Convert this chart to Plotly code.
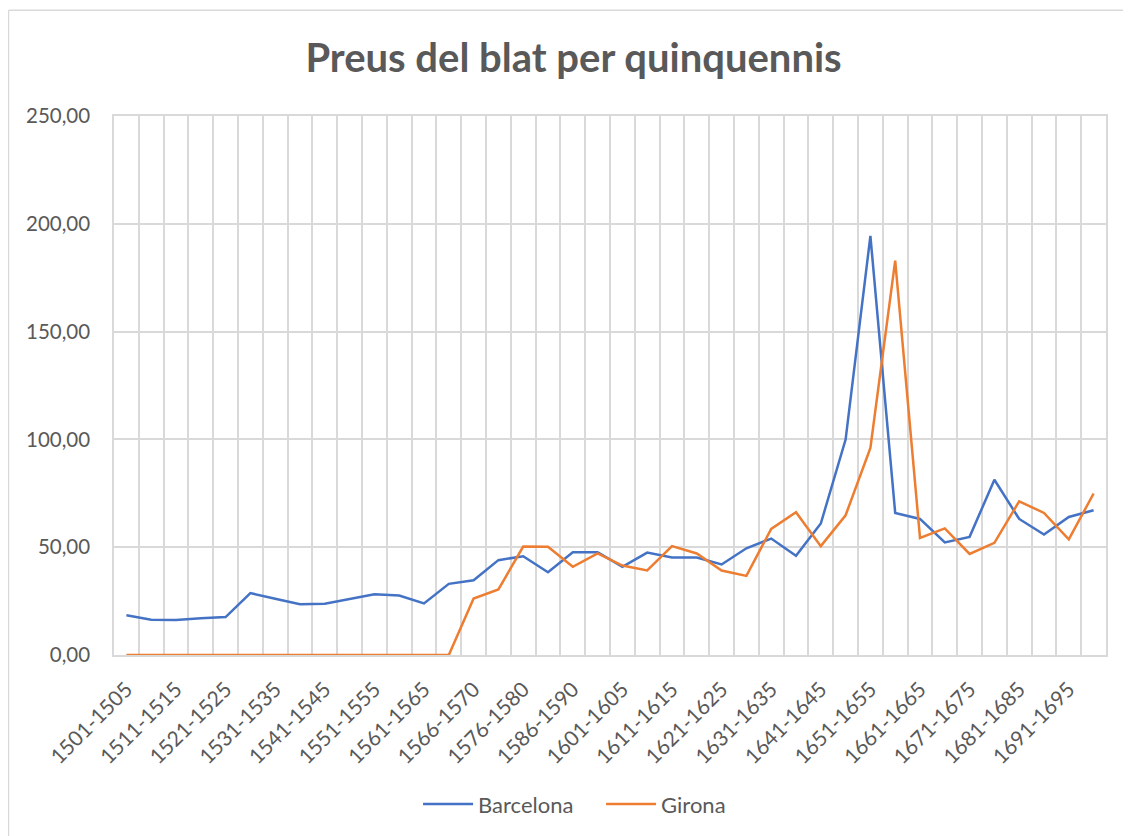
import plotly.graph_objects as go

periods = ["1501-1505", "1506-1510", "1511-1515", "1516-1520", "1521-1525", "1526-1530",
           "1531-1535", "1536-1540", "1541-1545", "1546-1550", "1551-1555", "1556-1560",
           "1561-1565", "1564-1565", "1566-1570", "1571-1575", "1576-1580", "1581-1585",
           "1586-1590", "1591-1595", "1601-1605", "1606-1610", "1611-1615", "1616-1620",
           "1621-1625", "1626-1630", "1631-1635", "1636-1640", "1641-1645", "1646-1650",
           "1651-1655", "1656-1660", "1661-1665", "1666-1670", "1671-1675", "1676-1680",
           "1681-1685", "1686-1690", "1691-1695", "1696-1700"]

barcelona = [18.4, 16.4, 16.2, 17.1, 17.6, 28.7, 26.1, 23.5, 23.8, 26.1, 28.2, 27.6, 23.9, 33.0,
             34.7, 44.0, 45.8, 38.4, 47.7, 47.7, 40.9, 47.5, 45.2, 45.2, 42.0, 49.5, 54.0, 46.0,
             61.0, 99.9, 194.4, 65.9, 63.1, 52.2, 54.8, 81.3, 63.1, 55.9, 64.0, 67.1]

girona = [0, 0, 0, 0, 0, 0, 0, 0, 0, 0, 0, 0, 0, 0,
          26.2, 30.4, 50.3, 50.2, 40.9, 47.1, 41.5, 39.2, 50.5, 47.1, 39.2, 36.7, 58.5, 66.2,
          50.5, 64.8, 96.0, 182.9, 54.3, 58.7, 46.9, 52.0, 71.3, 65.9, 53.6, 74.9]

x = list(range(len(periods)))
text_col = "#595959"
grid_col = "#D9D9D9"
font = "Lato"

fig = go.Figure()
fig.add_trace(go.Scatter(x=x, y=barcelona, mode="lines", name="Barcelona",
                         line=dict(color="#4472C4", width=2.5)))
fig.add_trace(go.Scatter(x=x, y=girona, mode="lines", name="Girona",
                         line=dict(color="#ED7D31", width=2.5)))

# page body has an 8px margin, so the figure is sized to fit inside the window
fig.update_layout(
    width=1123, height=828,
    margin=dict(l=106, r=25, t=108, b=180),
    paper_bgcolor="white", plot_bgcolor="white",
    separators=",.",
    font=dict(family=font, color=text_col, size=20),
    title=dict(text="<b>Preus del blat per quinquennis</b>", x=0.5036, xanchor="center",
               y=0.9396, yanchor="middle", font=dict(size=40, color=text_col, family=font)),
    legend=dict(orientation="h", x=0.491, xanchor="center", y=-0.2746, yanchor="middle",
                font=dict(size=22, color=text_col), itemwidth=50,
                entrywidth=118, entrywidthmode="pixels"),
    showlegend=True,
)

fig.update_xaxes(
    range=[-0.5, len(periods) - 0.5], automargin=False,
    tickmode="array", tickvals=x[::2], ticktext=periods[::2],
    tickangle=-45, showgrid=False, zeroline=False,
    ticks="", ticklabelstandoff=12,
    tickfont=dict(size=21, color=text_col),
    minor=dict(tickmode="array", tickvals=[i - 0.5 for i in x] + [len(x) - 0.5],
               showgrid=True, gridcolor=grid_col, gridwidth=1.5, ticks=""),
    showline=True, linecolor=grid_col, linewidth=1.5, mirror=True,
)
fig.update_yaxes(
    range=[0, 250], dtick=50, tickformat=".2f", automargin=False,
    showgrid=True, gridcolor=grid_col, gridwidth=1.5, zeroline=False,
    ticks="", ticklabelstandoff=18,
    tickfont=dict(size=20.5, color=text_col),
    showline=True, linecolor=grid_col, linewidth=1.5, mirror=True,
)

# chart frame (left and top edges visible in the original)
fx = (8.5 - 114) / 992
fy = (656 - 10) / 540
fig.add_shape(type="line", xref="paper", yref="paper",
              x0=fx, x1=fx, y0=fy, y1=-0.4,
              line=dict(color=grid_col, width=1.5))
fig.add_shape(type="line", xref="paper", yref="paper",
              x0=fx, x1=1.04, y0=fy, y1=fy,
              line=dict(color=grid_col, width=1.5))

fig.write_html("out.html")
